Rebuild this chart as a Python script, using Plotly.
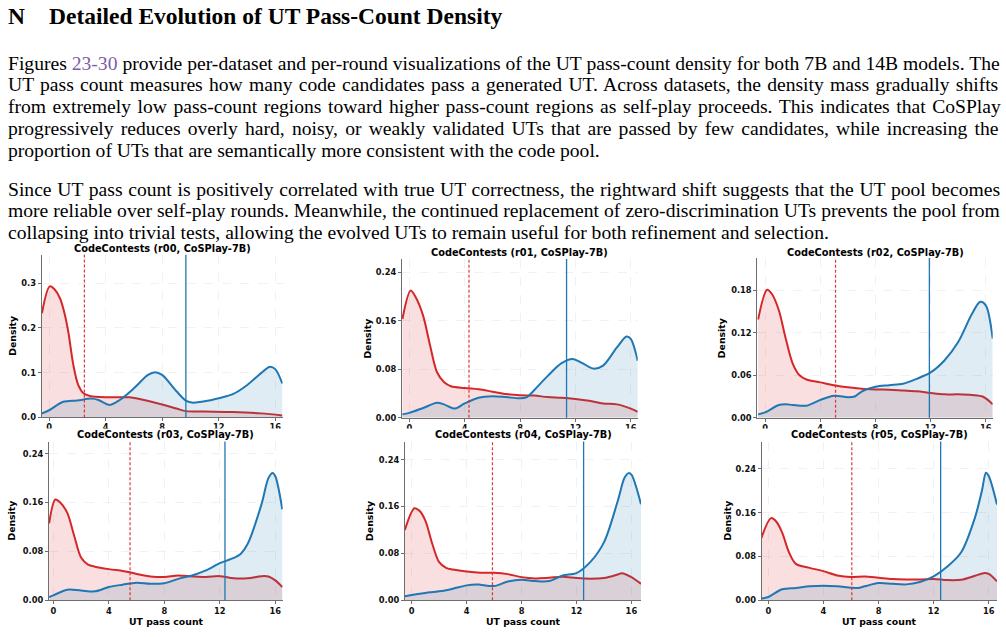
import plotly.graph_objects as go

W, H = 1006, 637

# ---------------- data ----------------
TITLES = ["CodeContests (r00, CoSPlay-7B)", "CodeContests (r01, CoSPlay-7B)", "CodeContests (r02, CoSPlay-7B)",
          "CodeContests (r03, CoSPlay-7B)", "CodeContests (r04, CoSPlay-7B)", "CodeContests (r05, CoSPlay-7B)"]

r00_red_x = [-0.5, 0.05, 0.4, 0.78, 1.1, 1.37, 1.72, 2.07, 2.43, 2.9, 4.0, 5.7, 6.4, 8.0, 9.0, 9.7, 11.0, 13.0, 15.0, 16.5]
r00_red_y = [0.233, 0.293, 0.286, 0.266, 0.232, 0.19, 0.117, 0.072, 0.054, 0.048, 0.045, 0.045, 0.041, 0.029, 0.02, 0.014, 0.013, 0.012, 0.009, 0.0045]
r00_blue_x = [-0.5, 0, 1, 2, 3, 3.5, 4.3, 5, 6, 7, 7.5, 8, 9, 9.7, 10.2, 11, 12, 13, 14, 15, 15.6, 16, 16.5]
r00_blue_y = [0.009, 0.016, 0.035, 0.038, 0.042, 0.039, 0.028, 0.039, 0.065, 0.095, 0.101, 0.095, 0.059, 0.037, 0.033, 0.036, 0.043, 0.052, 0.072, 0.099, 0.113, 0.108, 0.076]

r01_red_x = [-0.5, 0.1, 0.5, 1, 1.5, 2, 2.5, 3, 4, 5, 6, 7, 8, 9, 10, 11, 12, 13, 14, 15, 16, 16.5]
r01_red_y = [0.163, 0.21, 0.197, 0.168, 0.119, 0.075, 0.059, 0.052, 0.049, 0.047, 0.043, 0.039, 0.037, 0.0365, 0.034, 0.033, 0.031, 0.028, 0.0235, 0.022, 0.015, 0.0098]
r01_blue_x = [-0.5, 0, 1, 2, 2.5, 3.3, 4, 5, 6, 7, 8, 8.5, 9, 10, 11, 11.8, 12.5, 13.3, 14, 15, 15.7, 16, 16.5]
r01_blue_y = [0.0055, 0.008, 0.016, 0.0245, 0.022, 0.015, 0.0235, 0.033, 0.0355, 0.034, 0.032, 0.034, 0.045, 0.069, 0.09, 0.097, 0.09, 0.081, 0.086, 0.116, 0.134, 0.13, 0.094]

r02_red_x = [-0.5, 0.15, 0.5, 1, 1.5, 2, 2.5, 3, 4, 5, 6, 7, 8, 9, 10, 11, 12, 13, 14, 15, 15.8, 16.5]
r02_red_y = [0.139, 0.181, 0.175, 0.152, 0.112, 0.077, 0.06, 0.054, 0.05, 0.046, 0.043, 0.041, 0.04, 0.0395, 0.0385, 0.0375, 0.035, 0.033, 0.033, 0.032, 0.0296, 0.019]
r02_blue_x = [-0.5, 0, 1, 1.5, 2, 3, 4, 5, 6, 6.5, 7, 8, 9, 10, 11, 12, 13, 14, 15, 15.6, 16, 16.5]
r02_blue_y = [0.0047, 0.0075, 0.018, 0.019, 0.018, 0.017, 0.025, 0.031, 0.029, 0.030, 0.037, 0.0437, 0.046, 0.048, 0.055, 0.064, 0.081, 0.107, 0.147, 0.164, 0.159, 0.112]

r03_red_x = [-0.3, 0.15, 0.5, 1, 1.5, 2, 2.5, 3, 4, 5, 5.5, 6, 7, 8, 9, 10, 11, 12, 13, 14, 15, 15.5, 16, 16.5]
r03_red_y = [0.126, 0.165, 0.16, 0.1435, 0.106, 0.07, 0.0585, 0.055, 0.051, 0.048, 0.046, 0.043, 0.039, 0.038, 0.0406, 0.039, 0.038, 0.0395, 0.036, 0.036, 0.0395, 0.039, 0.0325, 0.0217]
r03_blue_x = [-0.3, 0, 1, 2, 3, 4, 5, 6, 7, 8, 9, 10, 11, 12, 12.5, 13, 13.5, 14, 15, 15.5, 15.8, 16, 16.5]
r03_blue_y = [0.0054, 0.008, 0.0173, 0.016, 0.0146, 0.0217, 0.0255, 0.0287, 0.027, 0.028, 0.035, 0.0406, 0.0488, 0.0607, 0.065, 0.0693, 0.0758, 0.092, 0.157, 0.2, 0.2085, 0.203, 0.149]

r04_red_x = [-0.5, 0.2, 0.6, 1, 1.5, 2, 2.5, 3, 4, 5, 6, 7, 8, 9, 10, 11, 12, 13, 14, 15, 15.3, 16, 16.7]
r04_red_y = [0.12, 0.157, 0.152, 0.1355, 0.096, 0.065, 0.0553, 0.0525, 0.049, 0.0469, 0.0469, 0.0446, 0.0395, 0.0373, 0.0384, 0.04, 0.0378, 0.0367, 0.0378, 0.044, 0.0463, 0.0395, 0.028]
r04_blue_x = [-0.5, 0, 1, 2, 3, 4, 4.7, 5, 6, 7, 8, 9, 10, 11, 12, 13, 14, 15, 15.5, 15.8, 16, 16.7]
r04_blue_y = [0.0068, 0.009, 0.0124, 0.0152, 0.0198, 0.0254, 0.027, 0.0265, 0.0243, 0.032, 0.035, 0.0327, 0.0327, 0.0423, 0.0463, 0.065, 0.0988, 0.169, 0.209, 0.217, 0.2145, 0.164]

r05_red_x = [-0.5, 0.2, 0.6, 1, 1.5, 2, 3, 4, 5, 6, 7, 8, 9, 10, 11, 12, 13, 14, 15, 15.7, 16, 16.6]
r05_red_y = [0.1137, 0.15, 0.143, 0.124, 0.0877, 0.0665, 0.0592, 0.0532, 0.0453, 0.0423, 0.0435, 0.0411, 0.0387, 0.038, 0.038, 0.039, 0.0369, 0.0375, 0.0447, 0.05, 0.048, 0.0345]
r05_blue_x = [-0.5, 0, 1, 2, 3, 4, 5, 6, 6.5, 7, 8, 9, 10, 11, 12, 13, 14, 15, 15.5, 15.8, 16, 16.6]
r05_blue_y = [0.003, 0.006, 0.02, 0.0224, 0.0254, 0.0266, 0.0254, 0.023, 0.0224, 0.0254, 0.0314, 0.03, 0.029, 0.0333, 0.0435, 0.0617, 0.0877, 0.151, 0.1995, 0.233, 0.227, 0.175]

red_mean = [2.50, 4.31, 5.11, 5.53, 5.88, 6.06]
blue_mean = [9.68, 11.36, 11.91, 12.37, 12.52, 12.51]

x_ticks = [0, 4, 8, 12, 16]
y_ticks = [[0, 0.1, 0.2, 0.3], [0, 0.08, 0.16, 0.24], [0, 0.06, 0.12, 0.18],
           [0, 0.08, 0.16, 0.24], [0, 0.08, 0.16, 0.24], [0, 0.08, 0.16, 0.24]]
y_fmt = ["{:.1f}", "{:.2f}", "{:.2f}", "{:.2f}", "{:.2f}", "{:.2f}"]
y_top = [0.364, 0.262, 0.226, 0.26, 0.271, 0.29]
x_rng = [(-0.52, 16.53), (-0.53, 16.5), (-0.56, 16.5), (-0.31, 16.53), (-0.49, 16.7), (-0.48, 16.6)]

series = [(r00_red_x, r00_red_y, r00_blue_x, r00_blue_y), (r01_red_x, r01_red_y, r01_blue_x, r01_blue_y),
          (r02_red_x, r02_red_y, r02_blue_x, r02_blue_y), (r03_red_x, r03_red_y, r03_blue_x, r03_blue_y),
          (r04_red_x, r04_red_y, r04_blue_x, r04_blue_y), (r05_red_x, r05_red_y, r05_blue_x, r05_blue_y)]

HEADING_N = "N"
HEADING = "Detailed Evolution of UT Pass-Count Density"
PARA_LINES = [
    "Figures |23-30| provide per-dataset and per-round visualizations of the UT pass-count density for both 7B and 14B models. The",
    "UT pass count measures how many code candidates pass a generated UT. Across datasets, the density mass gradually shifts",
    "from extremely low pass-count regions toward higher pass-count regions as self-play proceeds. This indicates that CoSPlay",
    "progressively reduces overly hard, noisy, or weakly validated UTs that are passed by few candidates, while increasing the",
    "proportion of UTs that are semantically more consistent with the code pool.",
    "Since UT pass count is positively correlated with true UT correctness, the rightward shift suggests that the UT pool becomes",
    "more reliable over self-play rounds. Meanwhile, the continued replacement of zero-discrimination UTs prevents the pool from",
    "collapsing into trivial tests, allowing the evolved UTs to remain useful for both refinement and selection.",
]
JUSTIFY = [True, True, True, True, False, True, True, False]

# ---------------- layout constants ----------------
RED = "#d62728"
BLUE = "#1f77b4"
RED_FILL = "rgba(214,39,40,0.15)"
BLUE_FILL = "rgba(31,119,180,0.14)"
PURPLE = "#7E5CA8"
DOM = [(41.7, 282.7, 256.7, 420.7), (402, 637.7, 261, 421), (757.3, 992.7, 260, 421),
       (49, 282.7, 445, 605), (405, 641, 445, 605), (761.7, 997, 445, 605)]
TITLE_Y = [250, 254, 254, 438, 438, 438]
DENS_X = [11.7, 367.3, 722.3, 11.7, 370, 727.7]

def px(v):
    return v / W

def py(v):
    return 1 - v / H

# Times metrics (per 1000 em) to justify lines
TW = {' ': 250, ',': 250, '.': 250, '-': 333, '(': 333, ')': 333, '|': 0}
for c in '0123456789':
    TW[c] = 500
TW.update(dict(A=722, B=667, C=667, D=722, E=611, F=556, G=722, H=722, I=333, J=389, K=722, L=611, M=889,
               N=722, O=722, P=556, Q=722, R=667, S=556, T=611, U=722, V=722, W=944, X=722, Y=722, Z=611))
TW.update(dict(a=444, b=500, c=444, d=500, e=444, f=333, g=500, h=500, i=278, j=278, k=500, l=278, m=778,
               n=500, o=500, p=500, q=500, r=333, s=389, t=278, u=500, v=500, w=722, x=500, y=500, z=444))

FS = 19.6
TEXT_L, TEXT_R = 6.5, 1000
LINE_Y = [63.5, 85.5, 107.5, 129.5, 151.5, 190.5, 212.5, 234]

fig = go.Figure()
layout = dict(width=W, height=H, margin=dict(l=0, r=0, t=0, b=0), paper_bgcolor="white",
              plot_bgcolor="white", showlegend=False)
annotations = []
shapes = []

for i in range(6):
    sfx = "" if i == 0 else str(i + 1)
    xa, ya = "x" + sfx, "y" + sfx
    rx, ry, bx, by = series[i]
    fig.add_trace(go.Scatter(x=rx, y=ry, xaxis=xa, yaxis=ya, mode="lines",
                             line=dict(color=RED, width=2, shape="spline", smoothing=0.9),
                             fill="tozeroy", fillcolor=RED_FILL, hoverinfo="skip"))
    fig.add_trace(go.Scatter(x=bx, y=by, xaxis=xa, yaxis=ya, mode="lines",
                             line=dict(color=BLUE, width=2, shape="spline", smoothing=0.9),
                             fill="tozeroy", fillcolor=BLUE_FILL, hoverinfo="skip"))
    x0, x1, t, b = DOM[i]
    axcommon = dict(showline=True, linecolor="#6e6e6e", linewidth=1, ticks="outside", ticklen=3,
                    tickwidth=1, tickcolor="#6e6e6e", showgrid=True, gridcolor="#f1f1f1",
                    griddash="dash", gridwidth=0.8, zeroline=False,
                    tickfont=dict(family="DejaVu Sans", size=8.3, color="#111111", weight="bold"))
    layout["xaxis" + sfx] = dict(domain=[px(x0), px(x1)], anchor=ya, range=list(x_rng[i]),
                                 tickvals=x_ticks, ticktext=[str(v) for v in x_ticks],
                                 ticklabelstandoff=(-1 if i < 3 else 0), **axcommon)
    layout["yaxis" + sfx] = dict(domain=[py(b), py(t)], anchor=xa, range=[0, y_top[i]],
                                 tickvals=y_ticks[i], ticktext=[y_fmt[i].format(v) for v in y_ticks[i]],
                                 **axcommon)
    shapes.append(dict(type="line", xref=xa, yref=ya + " domain", x0=red_mean[i], x1=red_mean[i], y0=0, y1=1,
                       line=dict(color="rgba(214,39,40,0.9)", width=1.2, dash="3px,2px")))
    shapes.append(dict(type="line", xref=xa, yref=ya + " domain", x0=blue_mean[i], x1=blue_mean[i], y0=0, y1=1,
                       line=dict(color=BLUE, width=1.3)))
    annotations.append(dict(text=TITLES[i], xref="paper", yref="paper", x=px((x0 + x1) / 2), y=py(TITLE_Y[i]),
                            xanchor="center", yanchor="middle", showarrow=False,
                            font=dict(family="DejaVu Sans", size=9.8, color="black", weight="bold")))
    annotations.append(dict(text="Density", xref="paper", yref="paper", x=px(DENS_X[i]), y=py((t + b) / 2),
                            xanchor="center", yanchor="middle", showarrow=False, textangle=-90,
                            font=dict(family="DejaVu Sans", size=9.3, color="black", weight="bold")))
    if i >= 3:
        annotations.append(dict(text="UT pass count", xref="paper", yref="paper", x=px((x0 + x1) / 2),
                                y=py(626.7), xanchor="center", yanchor="middle", showarrow=False,
                                font=dict(family="DejaVu Sans", size=9.3, color="black", weight="bold")))

# white band: the lower figure row hides the lower part of the upper row's tick labels
shapes.append(dict(type="rect", xref="paper", yref="paper", x0=0, x1=1, y0=py(444), y1=py(432),
                   fillcolor="white", line=dict(width=0), layer="above"))

# heading
annotations.append(dict(text=HEADING_N, xref="paper", yref="paper", x=px(7), y=py(16), xanchor="left",
                        yanchor="middle", showarrow=False, borderpad=0,
                        font=dict(family="Liberation Serif", size=23.5, color="black", weight="bold")))
annotations.append(dict(text=HEADING, xref="paper", yref="paper", x=px(47.5), y=py(16), xanchor="left",
                        yanchor="middle", showarrow=False, borderpad=0,
                        font=dict(family="Liberation Serif", size=23.5, color="black", weight="bold")))

# body paragraphs, justified with word-spacing
for line, just, ly in zip(PARA_LINES, JUSTIFY, LINE_Y):
    plain = line.replace("|", "")
    nat = sum(TW.get(c, 500) for c in plain) / 1000 * FS
    nsp = plain.count(" ")
    ws = (TEXT_R - TEXT_L - nat) / nsp if (just and nsp) else 0
    parts = line.split("|")
    html = ""
    for k, part in enumerate(parts):
        if k % 2 == 1:
            html += '<span style="color:%s">%s</span>' % (PURPLE, part)
        else:
            if part:
                html += '<span style="word-spacing:%.3fpx">%s</span>' % (ws, part)
    annotations.append(dict(text=html, xref="paper", yref="paper", x=px(TEXT_L), y=py(ly), xanchor="left",
                            yanchor="middle", showarrow=False, borderpad=0, align="left",
                            font=dict(family="Liberation Serif", size=FS, color="black")))

layout["annotations"] = annotations
layout["shapes"] = shapes
fig.update_layout(**layout)
fig.write_html("out.html")
